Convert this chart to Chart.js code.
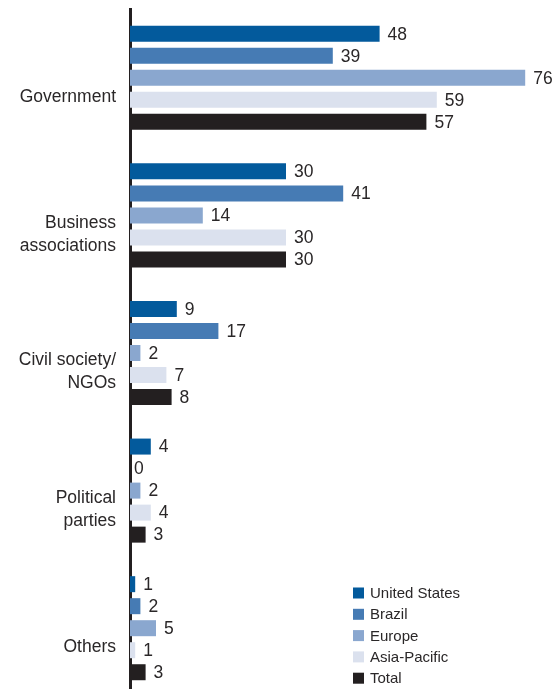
<!DOCTYPE html>
<html>
<head>
<meta charset="utf-8">
<script src="https://cdn.jsdelivr.net/npm/chart.js@4/dist/chart.umd.min.js"></script>
<style>
  html, body { margin: 0; padding: 0; background: #fff; overflow: hidden; }
  #wrap { position: relative; width: 555px; height: 697px; }
</style>
</head>
<body>
<div id="wrap"><canvas id="chart"></canvas></div>
<script>
// categories and series values
const categories = [
  'Government',
  ['Business', 'associations'],
  ['Civil society/', 'NGOs'],
  ['Political', 'parties'],
  'Others'
];
const unitedStates = [48, 30, 9, 4, 1];
const brazil = [39, 41, 17, 0, 2];
const europe = [76, 14, 2, 2, 5];
const asiaPacific = [59, 30, 7, 4, 1];
const total = [57, 30, 8, 3, 3];

const seriesNames = ['United States', 'Brazil', 'Europe', 'Asia-Pacific', 'Total'];
const seriesColors = ['#035a9c', '#467bb4', '#8aa7cf', '#dbe1ee', '#231f20'];
const seriesData = [unitedStates, brazil, europe, asiaPacific, total];

const textColor = '#2a2728';
const fontFamily = '"Liberation Sans", Arial, sans-serif';

// value labels at the end of each bar
const valueLabels = {
  id: 'valueLabels',
  afterDatasetsDraw(chart) {
    const ctx = chart.ctx;
    ctx.save();
    ctx.font = '17.5px ' + fontFamily;
    ctx.fillStyle = textColor;
    ctx.textAlign = 'left';
    ctx.textBaseline = 'middle';
    chart.data.datasets.forEach((ds, i) => {
      chart.getDatasetMeta(i).data.forEach((bar, j) => {
        const gap = ds.data[j] === 0 ? 4 : 8;
        ctx.fillText(String(ds.data[j]), bar.x + gap, bar.y + 1);
      });
    });
    ctx.restore();
  }
};

// legend in the lower right corner
const cornerLegend = {
  id: 'cornerLegend',
  afterDraw(chart) {
    const ctx = chart.ctx;
    ctx.save();
    ctx.font = '15px ' + fontFamily;
    ctx.textAlign = 'left';
    ctx.textBaseline = 'middle';
    chart.data.datasets.forEach((ds, i) => {
      const y = 593 + i * 21.3;
      ctx.fillStyle = ds.backgroundColor;
      ctx.fillRect(353, y - 5.5, 11, 11);
      ctx.fillStyle = textColor;
      ctx.fillText(ds.label, 370, y + 1);
    });
    ctx.restore();
  }
};

new Chart(document.getElementById('chart'), {
  type: 'bar',
  data: {
    labels: categories,
    datasets: seriesNames.map((name, i) => ({
      label: name,
      data: seriesData[i],
      backgroundColor: seriesColors[i],
      borderWidth: 0,
      categoryPercentage: 0.8,
      barPercentage: 0.727
    }))
  },
  options: {
    indexAxis: 'y',
    responsive: true,
    maintainAspectRatio: false,
    animation: false,
    layout: { padding: { top: 9, right: 9, bottom: 0, left: 0 } },
    plugins: {
      legend: { display: false },
      tooltip: { enabled: false }
    },
    scales: {
      x: {
        display: false,
        min: 0,
        max: 80
      },
      y: {
        z: 1,
        afterFit(scale) {
          scale.width = 130;
          // labels may hang outside, no extra room at top and bottom
          scale.paddingTop = 0;
          scale.paddingBottom = 0;
        },
        grid: { display: false, drawTicks: false },
        border: { display: true, color: '#231f20', width: 3 },
        ticks: {
          padding: 14,
          labelOffset: 19,
          color: textColor,
          font: { family: fontFamily, size: 17.5, lineHeight: 1.314 }
        }
      }
    }
  },
  plugins: [valueLabels, cornerLegend]
});
</script>
</body>
</html>
